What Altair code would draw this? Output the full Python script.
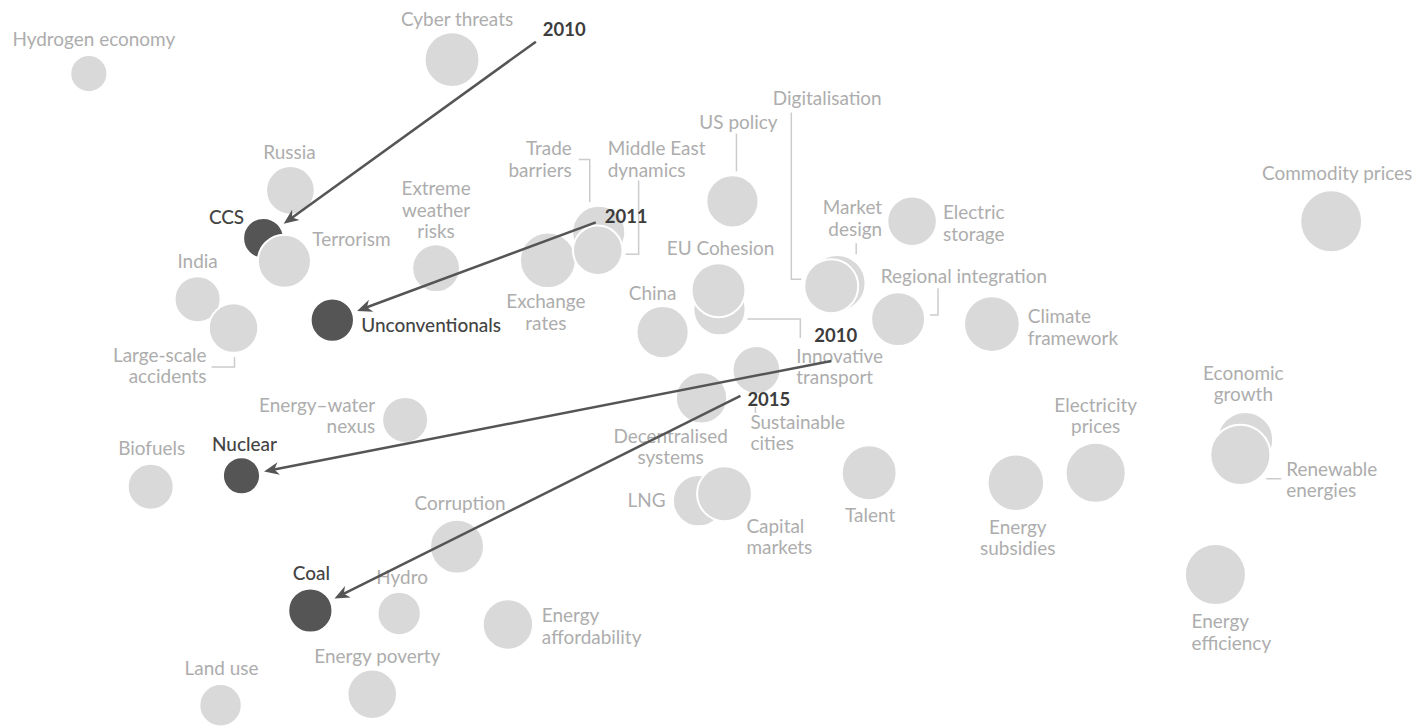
import math
import pandas as pd
import altair as alt

# ------------------------------------------------------------------ data
names = [
    "Hydrogen economy", "Cyber threats", "Russia", "CCS", "Terrorism",
    "Extreme weather risks", "India", "Large-scale accidents", "Unconventionals",
    "Energy–water nexus", "Biofuels", "Nuclear", "Corruption", "Coal", "Hydro",
    "Energy poverty", "Land use", "Energy affordability", "Trade barriers",
    "Exchange rates", "Middle East dynamics", "US policy", "Market design",
    "Digitalisation", "Innovative transport", "EU Cohesion", "China",
    "Sustainable cities", "Decentralised systems", "LNG", "Capital markets",
    "Talent", "Electric storage", "Regional integration", "Climate framework",
    "Commodity prices", "Economic growth", "Renewable energies",
    "Electricity prices", "Energy subsidies", "Energy efficiency",
]
x_score = [
    89, 453, 291, 264, 285,
    437, 198, 234, 333,
    406, 151, 242, 458, 311, 400,
    373, 221, 509, 600,
    549, 599, 734, 839,
    833, 721, 720, 664,
    758, 703, 700, 726,
    871, 914, 900, 994,
    1334, 1248, 1243,
    1098, 1018, 1218,
]
y_score = [
    655, 669, 538, 490, 467,
    460, 429, 400, 408,
    308, 241, 252, 181, 117, 114,
    33, 22, 103, 496,
    468, 478, 527, 445,
    442, 419, 438, 396,
    358, 330, 227, 234,
    255, 507, 409, 404,
    507, 288, 273,
    255, 245, 153,
]
weight = [
    40, 60, 53, 44, 58,
    52, 50, 54, 47,
    50, 50, 40, 59, 48, 47,
    54, 46, 55, 58,
    61, 54, 57, 62,
    59, 57, 59, 57,
    52, 56, 56, 60,
    60, 54, 59, 61,
    68, 61, 66,
    66, 62, 67,
]
highlighted = ["CCS", "Unconventionals", "Nuclear", "Coal"]

# earlier positions of the highlighted technologies
moved_names = ["CCS", "Unconventionals", "Nuclear", "Coal"]
moved_years = ["2010", "2011", "2010", "2015"]
past_x = [537, 597, 833, 742]
past_y = [687, 506, 367, 332]

# ------------------------------------------------------------------ layout (label placement, px offsets from bubble centre)
label_layout = {
    "Hydrogen economy": ("Hydrogen economy", 5, -35, "center"),
    "Cyber threats": ("Cyber threats", 5, -41, "center"),
    "Russia": ("Russia", -1, -38, "center"),
    "CCS": ("CCS", -37, -21, "center"),
    "Terrorism": ("Terrorism", 28, -22, "left"),
    "Extreme weather risks": ("Extreme\nweather\nrisks", 0, -80, "center"),
    "India": ("India", 0, -38, "center"),
    "Large-scale accidents": ("Large-scale\naccidents", -27, 27, "right"),
    "Unconventionals": ("Unconventionals", 29, 5, "left"),
    "Energy–water nexus": ("Energy–water\nnexus", -30, -15, "right"),
    "Biofuels": ("Biofuels", 1, -39, "center"),
    "Nuclear": ("Nuclear", 3, -32, "center"),
    "Corruption": ("Corruption", 3, -44, "center"),
    "Coal": ("Coal", 1, -38, "center"),
    "Hydro": ("Hydro", 3, -37, "center"),
    "Energy poverty": ("Energy poverty", 5, -38, "center"),
    "Land use": ("Land use", 1, -37, "center"),
    "Energy affordability": ("Energy\naffordability", 34, -9, "left"),
    "Trade barriers": ("Trade\nbarriers", -27, -84, "right"),
    "Middle East dynamics": ("Middle East\ndynamics", 10, -102, "left"),
    "Exchange rates": ("Exchange\nrates", -2, 41, "center"),
    "US policy": ("US policy", 6, -80, "center"),
    "Market design": ("Market\ndesign", 45, -76, "right"),
    "Digitalisation": ("Digitalisation", -4, -189, "center"),
    "EU Cohesion": ("EU Cohesion", 2, -42, "center"),
    "China": ("China", -10, -39, "center"),
    "Innovative transport": ("Innovative\ntransport", 77, 47, "left"),
    "Sustainable cities": ("Sustainable\ncities", -6, 52, "left"),
    "Decentralised systems": ("Decentralised\nsystems", -31, 38, "center"),
    "LNG": ("LNG", -33, -1, "right"),
    "Capital markets": ("Capital\nmarkets", 22, 32, "left"),
    "Talent": ("Talent", 1, 42, "center"),
    "Electric storage": ("Electric\nstorage", 31, -9, "left"),
    "Regional integration": ("Regional integration", 66, -43, "center"),
    "Climate framework": ("Climate\nframework", 36, -8, "left"),
    "Commodity prices": ("Commodity prices", 6, -48, "center"),
    "Economic growth": ("Economic\ngrowth", -2, -67, "center"),
    "Renewable energies": ("Renewable\nenergies", 46, 14, "left"),
    "Electricity prices": ("Electricity\nprices", 0, -68, "center"),
    "Energy subsidies": ("Energy\nsubsidies", 2, 44, "center"),
    "Energy efficiency": ("Energy\nefficiency", -24, 47, "left"),
}
leader_layout = {
    "Large-scale accidents": [(-22, 39), (1, 39), (1, 29)],
    "Trade barriers": [(-20, -73), (-9, -73), (-9, -30)],
    "Middle East dynamics": [(41, -70), (41, 4), (28, 4)],
    "US policy": [(4, -68), (4, -30)],
    "Digitalisation": [(-40, -174), (-40, -7), (-30, -7)],
    "Market design": [(19, -40), (19, -29)],
    "Innovative transport": [(28, 10), (81, 10), (81, 29)],
    "Sustainable cities": [(-1, 37), (-1, 43)],
    "Regional integration": [(40, -31), (40, -4), (32, -4)],
    "Renewable energies": [(26, 24), (41, 24)],
}
year_offsets = [(7, -13), (9, -6), (-17, -26), (7, 3)]

# ------------------------------------------------------------------ style
FONT = "Lato"
FS = 19
LINE_H = 21.5
YEAR_FS = 18.5
BASE_DY = 7
LIGHT = "#d9d9d9"
DARK = "#555555"
LABEL_GREY = "#adadad"
LABEL_DARK = "#444444"
LEADER = "#cccccc"
STROKE = 2
HEAD_SIZE = 225
ARROW_PATH = "M0,0 L-2,-0.85 L-1.4,0 L-2,0.85 Z"

xs = alt.Scale(domain=[8, 1413], nice=False, zero=False)
ys = alt.Scale(domain=[8, 720], nice=False, zero=False)

# ------------------------------------------------------------------ tables
bub = pd.DataFrame({"name": names, "x": x_score, "y": y_score, "w": weight})
bub["kind"] = ["highlight" if n in highlighted else "other" for n in names]
bub["area"] = [math.pi * ((w + STROKE) / 2) ** 2 for w in weight]
bub["z"] = range(len(bub))
pos = {n: (x, y, w) for n, x, y, w in zip(names, x_score, y_score, weight)}

lab_rows = []
for n in names:
    text, dx, dy, al = label_layout[n]
    x, y, _ = pos[n]
    lab_rows.append({"label": text, "lx": x + dx, "ly": y - dy, "anchor": al,
                     "kind": "highlight" if n in highlighted else "other"})
labs = pd.DataFrame(lab_rows)

lead_rows = []
for n, pts in leader_layout.items():
    x, y, _ = pos[n]
    for k, (dx, dy) in enumerate(pts):
        lead_rows.append({"cid": n, "k": k, "x": x + dx, "y": y - dy})
leads = pd.DataFrame(lead_rows)

arr_rows = []
for n, yr, sx, sy, (ox, oy) in zip(moved_names, moved_years, past_x, past_y, year_offsets):
    cx, cy, w = pos[n]
    vx, vy = sx - cx, sy - cy
    ln = math.hypot(vx, vy)
    ux, uy = vx / ln, vy / ln
    r = w / 2 + 3
    tx, ty = cx + ux * r, cy + uy * r
    ex, ey = tx + ux * 9, ty + uy * 9
    ang = math.degrees(math.atan2(-(ty - sy), tx - sx)) % 360
    arr_rows.append({"year": yr, "sx": sx, "sy": sy, "tx": tx, "ty": ty,
                     "ex": ex, "ey": ey, "ang": ang, "yx": sx + ox, "yy": sy - oy})
arrows = pd.DataFrame(arr_rows)

# ------------------------------------------------------------------ layers
leader_layer = alt.Chart(leads).mark_line(color=LEADER, strokeWidth=1.5).encode(
    x=alt.X("x:Q", scale=xs, axis=None),
    y=alt.Y("y:Q", scale=ys, axis=None),
    detail="cid:N",
    order="k:Q",
)

circle_layer = alt.Chart(bub).mark_circle(opacity=1, stroke="white", strokeWidth=STROKE).encode(
    x=alt.X("x:Q", scale=xs, axis=None),
    y=alt.Y("y:Q", scale=ys, axis=None),
    size=alt.Size("area:Q", scale=None),
    color=alt.Color("kind:N", scale=alt.Scale(domain=["other", "highlight"], range=[LIGHT, DARK]), legend=None),
    order=alt.Order("z:Q"),
)


def text_layer(df, al, color, wt):
    return alt.Chart(df).mark_text(
        align=al, baseline="alphabetic", dy=BASE_DY, font=FONT, fontSize=FS,
        fontWeight=wt, color=color, lineBreak="\n", lineHeight=LINE_H,
    ).encode(
        x=alt.X("lx:Q", scale=xs, axis=None),
        y=alt.Y("ly:Q", scale=ys, axis=None),
        text="label:N",
    )


text_layers = []
for kind, col, wt in [("other", LABEL_GREY, "normal"), ("highlight", LABEL_DARK, 500)]:
    for al in ["left", "center", "right"]:
        sub = labs[(labs["kind"] == kind) & (labs["anchor"] == al)]
        if len(sub):
            text_layers.append(text_layer(sub, al, col, wt))

arrow_lines = alt.Chart(arrows).mark_rule(color=DARK, strokeWidth=2.5).encode(
    x=alt.X("sx:Q", scale=xs, axis=None),
    y=alt.Y("sy:Q", scale=ys, axis=None),
    x2="ex:Q",
    y2="ey:Q",
)
arrow_heads = alt.Chart(arrows).mark_point(
    shape=ARROW_PATH, filled=True, size=HEAD_SIZE, color=DARK, opacity=1
).encode(
    x=alt.X("tx:Q", scale=xs, axis=None),
    y=alt.Y("ty:Q", scale=ys, axis=None),
    angle=alt.Angle("ang:Q", scale=None),
)
year_labels = alt.Chart(arrows).mark_text(
    align="left", baseline="alphabetic", dy=BASE_DY, font=FONT, fontSize=YEAR_FS,
    fontWeight="bold", color="#3c3c3c",
).encode(
    x=alt.X("yx:Q", scale=xs, axis=None),
    y=alt.Y("yy:Q", scale=ys, axis=None),
    text="year:N",
)

chart = alt.layer(
    leader_layer, circle_layer, *text_layers, arrow_lines, arrow_heads, year_labels
).properties(width=1405, height=712, padding=0).configure_view(strokeWidth=0)

chart.save("out.html", embed_options={"renderer": "svg", "actions": False})
